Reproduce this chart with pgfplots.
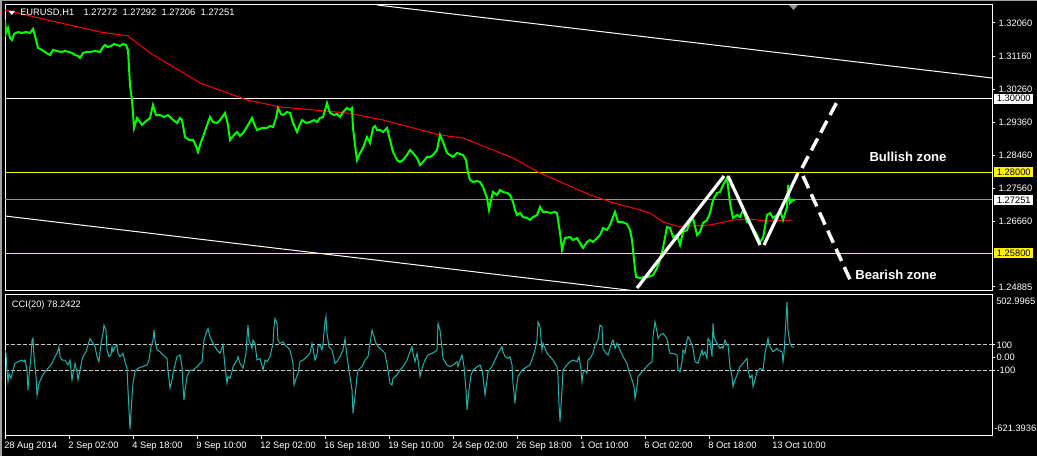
\documentclass[border=0pt]{standalone}
\usepackage{pgfplots}
\pgfplotsset{compat=1.18}
\usepackage{fontspec}
\setmainfont{Liberation Sans}
\definecolor{cci}{HTML}{20B2AA}
\definecolor{bidgray}{HTML}{8C949C}
\definecolor{lvl}{HTML}{C8C8C8}
\definecolor{mtgray}{HTML}{A0A0A0}
\definecolor{pricegreen}{HTML}{00FF00}
\newcommand\tf{\fontsize{7pt}{8pt}\selectfont}
\begin{document}
\begin{tikzpicture}[x=0.75pt,y=0.75pt]
\path[use as bounding box] (0,0) rectangle (1037,456);
\clip (0,0) rectangle (1037,456);
\fill[black] (0,0) rectangle (1037,456);
\fill[mtgray] (0,454.5) rectangle (1037,456);
\fill[mtgray] (0,0) rectangle (1.5,456);

% ---------------- main price panel ----------------
\begin{axis}[
  at={(3.75pt,123.75pt)}, anchor=south west,
  width=740.25pt, height=214.5pt, scale only axis,
  xmin=5, xmax=992, ymin=1.24776, ymax=1.32549,
  axis line style={white, line width=0.75pt},
  xtick=\empty,
  ytick={1.24885,1.26660,1.27560,1.28460,1.29360,1.30260,1.31160,1.32060},
  yticklabels={1.24885,1.26660,1.27560,1.28460,1.29360,1.30260,1.31160,1.32060},
  ytick pos=right, yticklabel pos=right,
  tick align=outside, major tick length=2.25pt,
  tick style={white, line width=0.75pt},
  yticklabel style={font=\tf, text=white, anchor=west, inner sep=0pt, xshift=2.5pt},
  clip mode=individual,
]
% horizontal levels
\addplot[white, line width=0.75pt] coordinates {(5,1.30000) (992,1.30000)};
\addplot[yellow, line width=0.75pt] coordinates {(5,1.28000) (992,1.28000)};
\addplot[bidgray, line width=0.75pt] coordinates {(5,1.27251) (992,1.27251)};
\addplot[yellow, line width=0.75pt] coordinates {(5,1.25800) (992,1.25800)};
% channel lines
\addplot[white, line width=0.75pt] coordinates {(377,1.32549) (992,1.30565)};
\addplot[white, line width=0.75pt] coordinates {(5,1.26814) (636,1.24776)};
% moving average
\addplot[red, line width=0.75pt] coordinates {
(5,1.32413) (43,1.32169) (100,1.31815) (128,1.31706) (150,1.31244) (200,1.30429)
(247,1.29967) (280,1.29777) (347,1.29614) (383,1.29423) (440,1.29016) (463,1.28934)
(513,1.28390) (540,1.27983) (590,1.27385) (617,1.27140) (633,1.27031) (650,1.26895)
(663,1.26651) (680,1.26515) (690,1.26542) (710,1.26569) (733,1.26705) (750,1.26732)
(767,1.26678) (792,1.26705)};
% price
\addplot[pricegreen, line width=1.5pt, line join=miter] coordinates {
(5,1.32141) (6,1.31788) (8,1.31924) (10,1.31652) (12,1.31598) (14,1.31761) (18,1.31815)
(22,1.31788) (26,1.31815) (30,1.31788) (33,1.31897) (35,1.31706) (38,1.31380) (42,1.31326)
(45,1.31272) (48,1.31217) (50,1.31190) (53,1.31326) (57,1.31299) (61,1.31272) (65,1.31299)
(69,1.31272) (72,1.31244) (75,1.31190) (78,1.31163) (80,1.31108) (83,1.31244) (86,1.31272)
(90,1.31272) (95,1.31299) (100,1.31272) (103,1.31408) (105,1.31462) (108,1.31408)
(111,1.31435) (114,1.31489) (117,1.31462) (120,1.31435) (123,1.31489) (126,1.31462)
(128,1.31326) (130,1.30375) (132,1.29967) (134,1.29206) (137,1.29478) (140,1.29369)
(142,1.29287) (145,1.29369) (150,1.29478) (153,1.29831) (156,1.29559) (160,1.29559)
(164,1.29505) (168,1.29559) (172,1.29450) (177,1.29342) (180,1.29478) (182,1.29423)
(185,1.28961) (189,1.28880) (193,1.28880) (196,1.28717) (198,1.28553) (201,1.28825)
(203,1.28961) (206,1.29206) (210,1.29505) (213,1.29369) (217,1.29342) (220,1.29423)
(225,1.29614) (228,1.29287) (230,1.28880) (234,1.29016) (237,1.29097) (240,1.28988)
(243,1.29070) (248,1.29287) (252,1.29478) (255,1.29260) (257,1.29151) (262,1.29206)
(267,1.29206) (270,1.29260) (273,1.29233) (276,1.29478) (278,1.29749) (281,1.29586)
(283,1.29559) (287,1.29641) (290,1.29614) (293,1.29342) (297,1.29097) (300,1.29315)
(302,1.29423) (306,1.29342) (310,1.29369) (314,1.29423) (317,1.29369) (320,1.29478)
(323,1.29505) (325,1.29695) (327,1.29885) (330,1.29614) (334,1.29559) (337,1.29586)
(340,1.29505) (343,1.29641) (347,1.29749) (350,1.29695) (352,1.29749) (353,1.29206)
(355,1.28744) (357,1.28336) (360,1.28526) (363,1.28662) (367,1.28961) (370,1.28798)
(373,1.29206) (375,1.29260) (377,1.29151) (380,1.29151) (383,1.29097) (387,1.29206)
(390,1.28880) (393,1.28553) (397,1.28336) (400,1.28282) (403,1.28336) (407,1.28472)
(410,1.28608) (413,1.28526) (417,1.28390) (420,1.28200) (423,1.28282) (427,1.28418)
(430,1.28418) (433,1.28472) (437,1.28608) (440,1.29016) (443,1.28825) (447,1.28526)
(450,1.28472) (453,1.28418) (457,1.28526) (460,1.28499) (463,1.28472) (466,1.28336)
(468,1.27983) (470,1.27792) (473,1.27738) (477,1.27765) (480,1.27738) (483,1.27602)
(487,1.27303) (489,1.26977) (491,1.27249) (493,1.27466) (497,1.27385) (500,1.27521)
(503,1.27466) (507,1.27439) (510,1.27385) (513,1.27194) (515,1.26977) (517,1.26841)
(520,1.26895) (523,1.26787) (527,1.26760) (530,1.26705) (533,1.26787) (537,1.26841)
(540,1.27059) (543,1.26923) (547,1.26923) (550,1.26895) (555,1.26923) (557,1.26895)
(560,1.26352) (562,1.25890) (565,1.26216) (570,1.26243) (573,1.26162) (577,1.26216)
(580,1.26080) (583,1.25944) (587,1.26107) (590,1.26162) (593,1.26107) (597,1.26216)
(600,1.26297) (603,1.26488) (607,1.26433) (610,1.26569) (613,1.26787) (615,1.26923)
(618,1.26651) (622,1.26651) (627,1.26596) (630,1.26433) (632,1.26162) (634,1.25618)
(636,1.25156) (640,1.25129) (644,1.25156) (648,1.25156) (653,1.25210) (657,1.25400)
(660,1.25618) (663,1.25944) (667,1.26515) (670,1.26488) (673,1.26243) (677,1.26297)
(680,1.26026) (683,1.26379) (687,1.26433) (690,1.26651) (693,1.26760) (697,1.26297)
(700,1.26379) (703,1.26624) (707,1.26705) (710,1.26895) (713,1.27249) (717,1.27439)
(720,1.27466) (723,1.27657) (727,1.27847) (730,1.27167) (733,1.26760) (737,1.26841)
(740,1.26787) (743,1.26977) (747,1.26651) (750,1.26624) (753,1.26488) (757,1.26297)
(760,1.26107) (763,1.26216) (767,1.26841) (770,1.26895) (773,1.26760) (777,1.26841)
(780,1.26977) (783,1.26705) (787,1.27059) (788,1.27657) (790,1.27167) (793,1.27249)
(795,1.27251)};
% W pattern and projections
\addplot[white, line width=2.4pt] coordinates {(637,1.24857) (724,1.27901)};
\addplot[white, line width=2.4pt] coordinates {(728,1.27901) (760,1.26026)};
\addplot[white, line width=2.4pt] coordinates {(764,1.26026) (798,1.27983)};
\addplot[white, line width=2.6pt, dash pattern=on 10pt off 5pt] coordinates {(802,1.28119) (838,1.29967)};
\addplot[white, line width=2.6pt, dash pattern=on 10pt off 5pt] coordinates {(803,1.27901) (852,1.24966)};
% price labels on the right
\node[fill=white, text=black, font=\tf, inner sep=0pt, minimum width=29.25pt, minimum height=7.5pt, anchor=west, xshift=1.5pt] at (axis cs:992,1.30000) {1.30000};
\node[fill=yellow, text=black, font=\tf, inner sep=0pt, minimum width=29.25pt, minimum height=7.5pt, anchor=west, xshift=1.5pt] at (axis cs:992,1.28000) {1.28000};
\node[fill=white, text=black, font=\tf, inner sep=0pt, minimum width=29.25pt, minimum height=7.5pt, anchor=west, xshift=1.5pt] at (axis cs:992,1.27251) {1.27251};
\node[fill=yellow, text=black, font=\tf, inner sep=0pt, minimum width=29.25pt, minimum height=7.5pt, anchor=west, xshift=1.5pt] at (axis cs:992,1.25800) {1.25800};
\node[text=white, font=\bfseries\fontsize{9.8pt}{11pt}\selectfont] at (axis cs:908,1.28415) {Bullish zone};
\node[text=white, font=\bfseries\fontsize{9.8pt}{11pt}\selectfont] at (axis cs:896,1.25210) {Bearish zone};
\end{axis}

% ---------------- CCI panel ----------------
\begin{axis}[
  at={(3.75pt,15pt)}, anchor=south west,
  width=740.25pt, height=106.5pt, scale only axis,
  xmin=5, xmax=992, ymin=-621.3936, ymax=502.9965,
  axis line style={white, line width=0.75pt},
  xtick={5,69,133,197,261,325,389,453,517,581,645,709,773},
  xticklabels={28 Aug 2014,2 Sep 02:00,4 Sep 18:00,9 Sep 10:00,12 Sep 02:00,16 Sep 18:00,19 Sep 10:00,24 Sep 02:00,26 Sep 18:00,1 Oct 10:00,6 Oct 02:00,8 Oct 18:00,13 Oct 10:00},
  xtick pos=bottom, xticklabel pos=bottom,
  ytick={-100,0,100}, yticklabels={-100,0.00,100},
  ytick pos=right, yticklabel pos=right,
  tick align=outside, major tick length=2.25pt,
  tick style={white, line width=0.75pt},
  yticklabel style={font=\tf, text=white, anchor=west, inner sep=0pt, xshift=1pt},
  xticklabel style={font=\tf, text=white, anchor=north west, inner sep=0pt, xshift=-0.75pt, yshift=-2pt},
  clip mode=individual,
]
\addplot[lvl, line width=0.75pt, dash pattern=on 3pt off 1.5pt] coordinates {(5,100) (992,100)};
\addplot[lvl, line width=0.75pt, dash pattern=on 3pt off 1.5pt] coordinates {(5,-100) (992,-100)};
\addplot[cci, line width=0.75pt] coordinates {
(5,59) (6,33) (7,-99) (8,-191) (9,-125) (11,-164) (13,-99) (15,-46) (18,-33) (22,-20)
(24,-33) (25,-20) (27,-99) (28,-257) (29,-151) (31,7) (32,138) (33,151) (34,7) (36,-151)
(37,-296) (39,-204) (42,-151) (45,-112) (48,-86) (52,-46) (55,7) (57,33) (59,86) (60,7)
(62,-20) (65,-20) (68,-59) (70,-20) (72,-177) (73,-125) (75,-46) (77,-112) (78,-177)
(80,-99) (82,-20) (83,7) (86,46) (88,99) (90,151) (92,125) (93,112) (95,86) (97,7)
(99,-33) (101,112) (103,191) (104,257) (106,217) (107,59) (109,7) (111,20) (112,86)
(113,46) (115,86) (117,99) (118,33) (120,7) (122,20) (123,33) (125,-33) (127,-86)
(128,-257) (129,-414) (130,-567) (131,-441) (132,-309) (133,-204) (135,-112) (138,-86)
(142,-73) (147,-59) (149,-20) (151,86) (153,138) (154,217) (155,138) (157,59) (160,46)
(163,20) (167,-7) (168,-99) (170,-243) (172,-177) (173,-125) (177,7) (180,20) (182,-73)
(183,-230) (184,-336) (185,-257) (187,-151) (190,-99) (193,-99) (197,-73) (200,-46)
(202,-33) (204,138) (206,191) (208,230) (210,164) (213,112) (217,59) (220,33) (223,99)
(225,-73) (227,-204) (228,-151) (230,-164) (232,-112) (233,-73) (237,-20) (238,7)
(240,-46) (243,-86) (246,33) (247,164) (248,257) (249,138) (252,72) (253,138) (255,112)
(257,-20) (260,-7) (263,-99) (265,-20) (267,-33) (270,7) (273,112) (274,243) (275,309)
(277,270) (278,138) (280,112) (283,125) (285,99) (287,86) (290,59) (293,-46) (294,-217)
(296,-164) (298,-125) (300,-33) (303,-20) (307,7) (310,33) (312,112) (313,72) (315,-20)
(317,20) (318,86) (320,99) (322,59) (323,112) (325,283) (326,323) (327,191) (329,86)
(332,59) (335,-46) (337,-33) (340,7) (343,59) (345,150) (347,7) (349,-99) (352,-257)
(353,-441) (355,-309) (357,-151) (358,-99) (362,-72) (365,-20) (368,7) (372,217)
(373,191) (376,112) (378,86) (382,59) (385,33) (388,-99) (390,-204) (392,-217)
(393,-164) (397,-138) (400,-99) (403,-73) (407,-20) (410,46) (412,86) (413,33) (415,-33)
(417,33) (418,-20) (420,-151) (422,-86) (425,-20) (428,20) (432,33) (435,46) (437,59)
(438,270) (440,217) (442,72) (443,-7) (447,-59) (450,-72) (453,-59) (457,-33) (458,-72)
(460,-20) (462,20) (464,-72) (466,-257) (467,-414) (469,-257) (471,-138) (473,-99)
(477,-73) (480,-59) (482,-99) (483,-151) (485,-296) (487,-177) (488,-112) (492,-72)
(495,-20) (498,33) (502,86) (503,46) (505,7) (508,-7) (510,7) (512,-59) (513,-204)
(515,-362) (516,-257) (518,-151) (522,-99) (527,-73) (530,-59) (533,7) (535,59)
(537,138) (538,283) (540,243) (542,59) (543,112) (547,33) (550,7) (553,-20) (557,-73)
(558,-151) (559,-375) (560,-507) (562,-257) (563,-99) (567,-59) (570,-33) (573,-20)
(577,-33) (579,7) (581,-99) (582,-191) (583,-125) (585,-99) (587,-125) (588,-20)
(590,-7) (593,33) (595,99) (598,138) (600,257) (602,243) (603,72) (606,33) (608,20)
(610,72) (612,125) (613,138) (615,72) (617,112) (620,59) (623,7) (627,-46) (629,-112)
(632,-177) (634,-230) (635,-323) (637,-230) (638,-151) (642,-112) (645,-86) (648,-59)
(652,-33) (653,164) (655,283) (657,204) (658,151) (660,177) (663,191) (667,151)
(668,99) (670,33) (673,33) (677,20) (678,-99) (680,-112) (682,-33) (683,59) (685,33)
(687,138) (688,164) (690,138) (693,72) (695,-33) (698,-46) (702,59) (703,20) (705,46)
(707,-7) (708,151) (710,125) (712,7) (713,270) (714,165) (716,125) (718,99) (720,72)
(722,86) (723,72) (725,138) (727,99) (728,99) (730,-72) (732,-151) (733,-230)
(735,-177) (737,-138) (740,-72) (743,-46) (747,-7) (748,-99) (750,-164) (752,-138)
(753,-230) (755,-177) (757,-112) (760,-86) (763,-99) (765,33) (767,112) (768,151)
(769,99) (772,59) (773,46) (777,72) (778,59) (782,46) (783,-33) (784,33) (785,164)
(787,441) (788,217) (790,112) (792,86) (793,85) (794,78)};
\node[text=white, font=\tf, inner sep=0pt, anchor=north west, xshift=3pt, yshift=-3pt] at (axis cs:992,502.9965) {502.9965};
\node[text=white, font=\tf, inner sep=0pt, anchor=south west, xshift=1.5pt, yshift=3pt] at (axis cs:992,-621.3936) {-621.3936};
\node[text=white, font=\tf, inner sep=0pt, anchor=north west, xshift=5pt, yshift=-4.5pt] at (axis cs:5,502.9965) {CCI(20) 78.2422};
\end{axis}

% header and markers
\fill[white] (8.5,445) -- (15,445) -- (11.75,441) -- cycle;
\node[anchor=west, text=white, font=\tf, inner sep=0pt] at (20,443.3) {EURUSD,H1\hspace{7pt}1.27272\hspace{4pt}1.27292\hspace{4pt}1.27206\hspace{4pt}1.27251};
\fill[bidgray] (789,451) -- (798,451) -- (793.5,446) -- cycle;
\end{tikzpicture}
\end{document}
